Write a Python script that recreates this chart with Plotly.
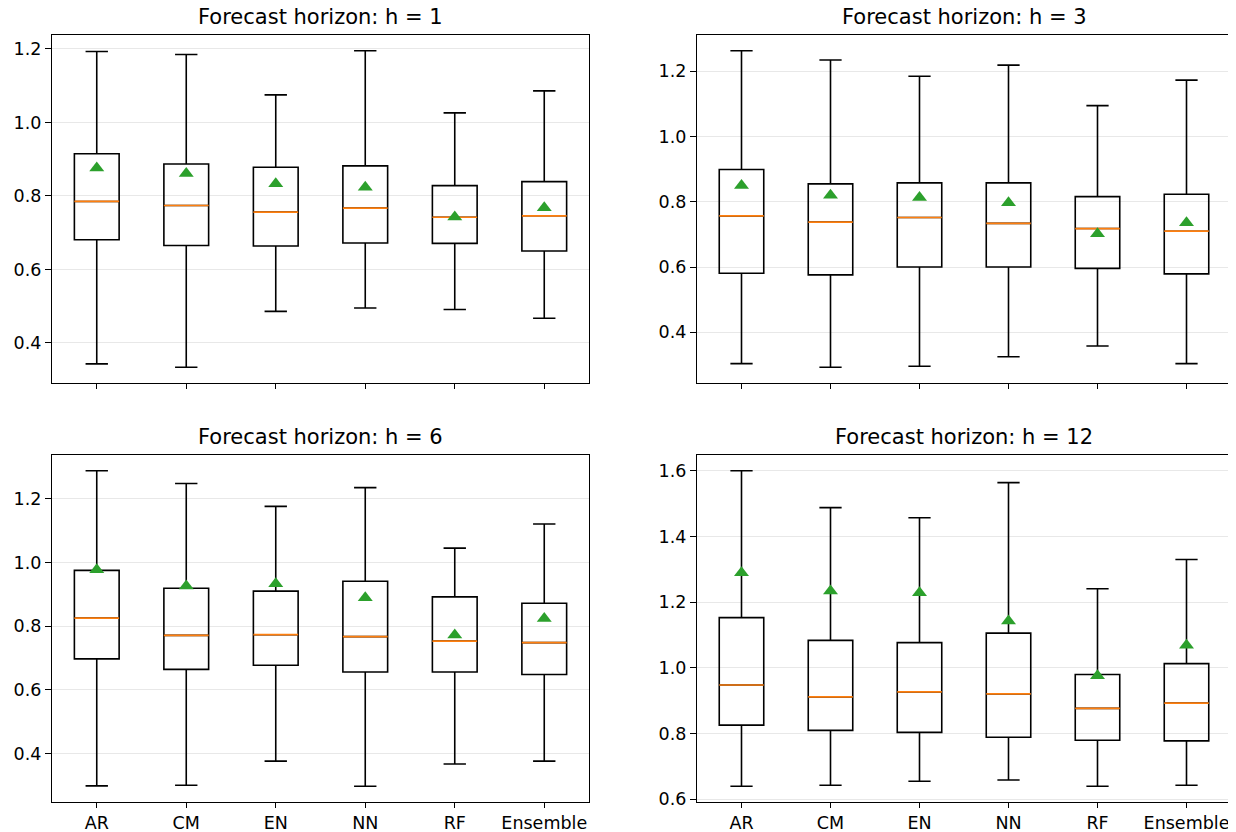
import plotly.graph_objects as go

models = ["AR", "CM", "EN", "NN", "RF", "Ensemble"]
positions = [1, 2, 3, 4, 5, 6]
titles = ["Forecast horizon: h = 1", "Forecast horizon: h = 3",
          "Forecast horizon: h = 6", "Forecast horizon: h = 12"]

# h = 1
h1_whislo = [0.343, 0.334, 0.486, 0.495, 0.491, 0.467]
h1_q1     = [0.681, 0.665, 0.664, 0.672, 0.671, 0.650]
h1_med    = [0.785, 0.774, 0.756, 0.767, 0.742, 0.746]
h1_q3     = [0.915, 0.887, 0.878, 0.882, 0.828, 0.839]
h1_whishi = [1.193, 1.185, 1.075, 1.195, 1.026, 1.086]
h1_mean   = [0.876, 0.861, 0.833, 0.824, 0.743, 0.768]

# h = 3
h3_whislo = [0.304, 0.293, 0.296, 0.325, 0.358, 0.304]
h3_q1     = [0.581, 0.576, 0.600, 0.600, 0.596, 0.579]
h3_med    = [0.757, 0.738, 0.752, 0.734, 0.718, 0.710]
h3_q3     = [0.899, 0.855, 0.858, 0.858, 0.816, 0.823]
h3_whishi = [1.263, 1.235, 1.185, 1.219, 1.095, 1.173]
h3_mean   = [0.850, 0.820, 0.813, 0.797, 0.702, 0.736]

# h = 6
h6_whislo = [0.298, 0.300, 0.376, 0.297, 0.367, 0.376]
h6_q1     = [0.697, 0.664, 0.677, 0.656, 0.656, 0.648]
h6_med    = [0.825, 0.771, 0.773, 0.767, 0.753, 0.748]
h6_q3     = [0.975, 0.919, 0.910, 0.941, 0.892, 0.872]
h6_whishi = [1.288, 1.248, 1.176, 1.235, 1.045, 1.121]
h6_mean   = [0.977, 0.926, 0.933, 0.889, 0.772, 0.824]

# h = 12
h12_whislo = [0.640, 0.643, 0.655, 0.659, 0.640, 0.643]
h12_q1     = [0.826, 0.810, 0.804, 0.789, 0.780, 0.778]
h12_med    = [0.948, 0.912, 0.927, 0.921, 0.877, 0.893]
h12_q3     = [1.153, 1.084, 1.077, 1.106, 0.980, 1.013]
h12_whishi = [1.600, 1.488, 1.457, 1.564, 1.241, 1.330]
h12_mean   = [1.290, 1.234, 1.229, 1.143, 0.976, 1.069]

panels = [
    (h1_whislo, h1_q1, h1_med, h1_q3, h1_whishi, h1_mean),
    (h3_whislo, h3_q1, h3_med, h3_q3, h3_whishi, h3_mean),
    (h6_whislo, h6_q1, h6_med, h6_q3, h6_whishi, h6_mean),
    (h12_whislo, h12_q1, h12_med, h12_q3, h12_whishi, h12_mean),
]

# page body has an 8px margin at top/left; figure fills the rest of the window
OFF = 8
W, H = 1236 - OFF, 832 - OFF
BOX_W = 0.5
FONT = "DejaVu Sans"


def fx(px):
    return (px - OFF) / W


def fy(py):
    return 1 - (py - OFF) / H


xdomains = [[fx(52), fx(589)], [fx(697), fx(1231)], [fx(52), fx(589)], [fx(697), fx(1231)]]
ydomains = [[fy(383), fy(35)], [fy(383), fy(35)], [fy(802), fy(455)], [fy(802), fy(455)]]

fig = go.Figure()
layout = dict(
    width=W, height=H,
    margin=dict(l=0, r=0, t=0, b=0, autoexpand=False),
    paper_bgcolor="white", plot_bgcolor="white",
    showlegend=False,
    font=dict(family=FONT, color="black", size=17),
)
annotations = []

for k, (lo, q1, med, q3, hi, mean) in enumerate(panels):
    n = k + 1
    xa = "x" if n == 1 else f"x{n}"
    ya = "y" if n == 1 else f"y{n}"

    fig.add_trace(go.Box(
        x=positions, q1=q1, median=med, q3=q3, lowerfence=lo, upperfence=hi,
        width=BOX_W, whiskerwidth=0.5, boxpoints=False,
        line=dict(color="black", width=1.6), fillcolor="rgba(255,255,255,0)",
        xaxis=xa, yaxis=ya, hoverinfo="skip",
    ))
    mx, my = [], []
    for p, m in zip(positions, med):
        mx += [p - BOX_W / 2, p + BOX_W / 2, None]
        my += [m, m, None]
    fig.add_trace(go.Scatter(x=mx, y=my, mode="lines",
                             line=dict(color="#ff7f0e", width=1.7),
                             xaxis=xa, yaxis=ya, hoverinfo="skip"))
    fig.add_trace(go.Scatter(x=positions, y=mean, mode="markers",
                             marker=dict(symbol="triangle-up", size=13, color="#2ca02c"),
                             xaxis=xa, yaxis=ya, hoverinfo="skip"))

    dmin, dmax = min(lo), max(hi)
    pad = 0.05 * (dmax - dmin)
    key_x = "xaxis" if n == 1 else f"xaxis{n}"
    key_y = "yaxis" if n == 1 else f"yaxis{n}"
    layout[key_x] = dict(
        domain=xdomains[k], anchor=ya, range=[0.5, 6.5], automargin=False,
        tickmode="array", tickvals=positions,
        ticktext=models if n >= 3 else [""] * 6,
        ticks="outside", ticklen=5, tickwidth=1.3, tickcolor="black",
        showline=True, linecolor="black", linewidth=1.3, mirror=True,
        showgrid=False, zeroline=False, tickfont=dict(size=17.5),
    )
    layout[key_y] = dict(
        domain=ydomains[k], anchor=xa, range=[dmin - pad, dmax + pad], automargin=False,
        dtick=0.2, tick0=0, tickformat=".1f",
        ticks="outside", ticklen=6, tickwidth=1.3, tickcolor="black",
        showline=True, linecolor="black", linewidth=1.3, mirror=True,
        showgrid=True, gridcolor="#e8e8e8", gridwidth=1.3, zeroline=False,
        tickfont=dict(size=17.5),
    )
    annotations.append(dict(
        text=titles[k], xref="paper", yref="paper",
        x=sum(xdomains[k]) / 2, y=ydomains[k][1], xanchor="center", yanchor="bottom",
        yshift=4, showarrow=False, font=dict(size=21, family=FONT, color="black"),
    ))

layout["annotations"] = annotations
fig.update_layout(**layout)
fig.write_html("out.html")
